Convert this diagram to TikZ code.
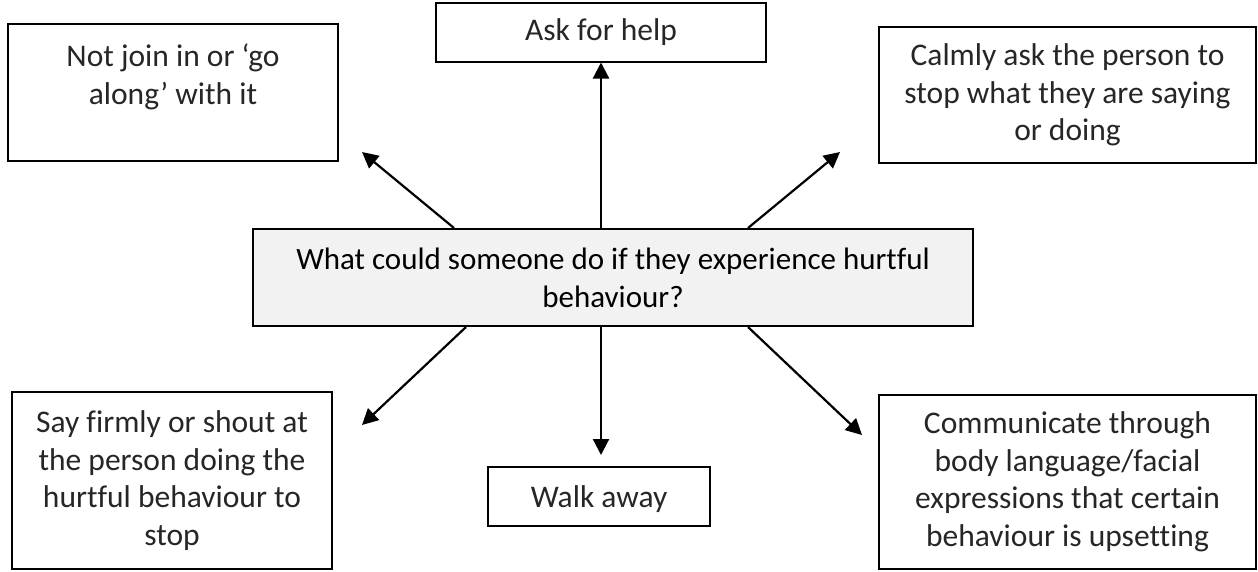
\documentclass[tikz,border=0pt]{standalone}
\usepackage{fontspec}
\setmainfont{Carlito}[Ligatures=CommonOff]
\usetikzlibrary{arrows.meta,calc}
\begin{document}
\begin{tikzpicture}[x=1pt,y=-1pt,
  box/.style={draw=black, line width=2pt, rectangle, inner sep=0pt, align=center,
    text=black!85, font=\fontsize{31.5}{37.5}\selectfont},
  txt/.style={inner sep=0pt, align=center, text=black!85, font=\fontsize{31.5}{37.5}\selectfont},
  arr/.style={line width=2.2pt, -{Triangle[length=16pt,width=16pt]}}]
\useasboundingbox (0,0) rectangle (1258,571);

% central question
\node[box, fill=black!5, text=black, font=\fontsize{31}{38}\selectfont,
  minimum width=720pt, minimum height=97pt] (c) at (613,277.5)
  {What could someone do if they experience hurtful\\behaviour?};

% outer boxes
\node[box, minimum width=330pt, minimum height=59pt] (ask) at (601,32) {Ask for help};
\node[box, minimum width=330pt, minimum height=137pt] (tl) at (173,92.5) {};
\node[txt] (tlt) at (173,77) {Not join in or ‘go\\along’ with it};
\node[box, minimum width=377pt, minimum height=136pt] (tr) at (1067.5,95)
  {Calmly ask the person to\\stop what they are saying\\or doing};
\node[box, minimum width=320pt, minimum height=177pt] (bl) at (172,480.5)
  {Say firmly or shout at\\the person doing the\\hurtful behaviour to\\stop};
\node[box, minimum width=222pt, minimum height=59pt] (walk) at (599,496.5) {};
\node[txt] (walkt) at (599,499) {Walk away};
\node[box, minimum width=377pt, minimum height=174pt] (br) at (1067.5,482)
  {Communicate through\\body language/facial\\expressions that certain\\behaviour is upsetting};

% arrow end points
\coordinate (s1) at ($(c.north west)+(202,0)$);
\coordinate (e1) at (362,152);
\coordinate (s2) at ($(c.north west)+(496,0)$);
\coordinate (e2) at (840,152);
\coordinate (s3) at ($(c.south west)+(214,0)$);
\coordinate (e3) at (362,425);
\coordinate (s4) at ($(c.south west)+(496,0)$);
\coordinate (e4) at (862,435);

\draw[arr] (ask.south |- c.north) -- (ask.south);
\draw[arr] (s1) -- (e1);
\draw[arr] (s2) -- (e2);
\draw[arr] (s3) -- (e3);
\draw[arr] (s4) -- (e4);
\draw[arr] (ask.south |- c.south) -- ($(walk.north)+(2,-11)$);
\end{tikzpicture}
\end{document}
